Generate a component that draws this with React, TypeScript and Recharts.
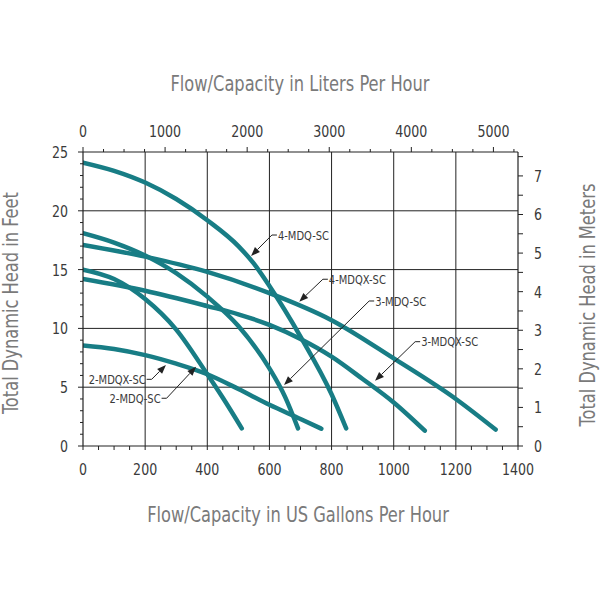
import React from 'react';
import { LineChart, Line, XAxis, YAxis, ReferenceLine } from 'recharts';

// conversion factors for the secondary axes
const LITERS_PER_GALLON = 3.78541;
const METERS_PER_FOOT = 0.3048;
const MAX_GPH = 1400;
const MAX_FT = 25;

// pump curves (US gallons per hour vs feet of head)
const flow4MDQ = [0, 100, 200, 300, 400, 500, 550, 600, 700, 800, 847];
const head4MDQ = [24.1, 23.4, 22.4, 21.0, 19.2, 17.0, 15.5, 13.6, 9.3, 4.4, 1.5];

const flow4MDQX = [0, 200, 400, 600, 800, 1000, 1200, 1328];
const head4MDQX = [17.1, 16.1, 14.8, 13.0, 10.7, 7.45, 4.0, 1.4];

const flow3MDQ = [0, 100, 200, 300, 400, 500, 600, 650, 692];
const head3MDQ = [18.1, 17.3, 16.2, 14.7, 12.7, 10.2, 6.6, 4.2, 1.5];

const flow3MDQX = [0, 200, 400, 500, 600, 700, 800, 900, 1000, 1100];
const head3MDQX = [14.2, 13.2, 11.9, 11.2, 10.3, 9.1, 7.6, 5.7, 3.7, 1.3];

const flow2MDQ = [0, 100, 200, 300, 400, 450, 511];
const head2MDQ = [15.0, 14.2, 12.5, 9.9, 6.1, 4.1, 1.5];

const flow2MDQX = [0, 100, 200, 300, 400, 500, 600, 700, 767];
const head2MDQX = [8.55, 8.25, 7.73, 7.0, 6.1, 4.85, 3.5, 2.3, 1.47];

const models = [
  { name: '4-MDQ-SC', flow: flow4MDQ, head: head4MDQ },
  { name: '4-MDQX-SC', flow: flow4MDQX, head: head4MDQX },
  { name: '3-MDQ-SC', flow: flow3MDQ, head: head3MDQ },
  { name: '3-MDQX-SC', flow: flow3MDQX, head: head3MDQX },
  { name: '2-MDQ-SC', flow: flow2MDQ, head: head2MDQ },
  { name: '2-MDQX-SC', flow: flow2MDQX, head: head2MDQX },
];

// tick labels
const gphLabels = [0, 200, 400, 600, 800, 1000, 1200, 1400];
const lphLabels = [0, 1000, 2000, 3000, 4000, 5000];
const feetLabels = [0, 5, 10, 15, 20, 25];
const meterLabels = [0, 1, 2, 3, 4, 5, 6, 7];

// minor tick marks
const gphTicks = Array.from({ length: 29 }, (_, i) => i * 50);
const lphTicks = Array.from({ length: 22 }, (_, i) => i * 250);
const feetTicks = Array.from({ length: 26 }, (_, i) => i);
const meterTicks = Array.from({ length: 16 }, (_, i) => i * 0.5);

const gridFlows = [200, 400, 600, 800, 1000, 1200];
const gridHeads = [5, 10, 15, 20];

// callouts: elbow and arrow tip in data units (gph, ft)
const callouts = [
  { text: '4-MDQ-SC', elbow: [608, 17.94], tip: [541, 16.16], side: 1 },
  { text: '4-MDQX-SC', elbow: [772, 14.18], tip: [696, 12.27], side: 1 },
  { text: '3-MDQ-SC', elbow: [921, 12.33], tip: [647, 5.19], side: 1 },
  { text: '3-MDQX-SC', elbow: [1069, 8.87], tip: [940, 5.55], side: 1 },
  { text: '2-MDQX-SC', elbow: [221, 5.67], tip: [267, 6.89], side: -1 },
  { text: '2-MDQ-SC', elbow: [269, 4.06], tip: [364, 6.74], side: -1 },
];

const TEAL = '#187d85';
const INK = '#222';
const FONT = "'DejaVu Sans Condensed', 'DejaVu Sans', sans-serif";
const TICK_COLOR = '#3a3a3a';
const TITLE_COLOR = '#7a7a7a';

const isOn = (v: any, list: number[]) => list.some((l) => Math.abs(Number(v) - l) < 1e-6);

// condensed-looking text: DejaVu Sans Condensed squeezed a bit more
const NarrowText = ({ x, y, anchor, size, children }: any) => (
  <text
    transform={`translate(${x},${y}) scale(0.85,1)`}
    x={0}
    y={0}
    dy="0.36em"
    textAnchor={anchor}
    fontFamily={FONT}
    fontSize={size}
    fill={TICK_COLOR}
  >
    {children}
  </text>
);

const BottomTick = ({ x, y, payload }: any) => {
  const v = payload.value;
  return (
    <g>
      <line x1={x} y1={y} x2={x} y2={y + 4} stroke={INK} strokeWidth={1} />
      {isOn(v, gphLabels) && (
        <NarrowText x={x} y={y + 23} anchor="middle" size={16.5}>
          {Math.round(v)}
        </NarrowText>
      )}
    </g>
  );
};

// liters-per-hour ticks, placed on the top edge through the gallon scale
const renderTopTick = (p: any, liters: number) => {
  const { x1, y1 } = p;
  const major = isOn(liters, lphLabels);
  return (
    <g>
      <line x1={x1} y1={y1} x2={x1} y2={y1 - (major ? 5 : 3)} stroke={INK} strokeWidth={1} />
      {major && (
        <NarrowText x={x1} y={y1 - 21} anchor="middle" size={16.5}>
          {liters}
        </NarrowText>
      )}
    </g>
  );
};

const LeftTick = ({ x, y, payload }: any) => {
  const v = payload.value;
  const major = isOn(v, feetLabels);
  return (
    <g>
      <line x1={x} y1={y} x2={x - (major ? 5 : 3)} y2={y} stroke={INK} strokeWidth={1} />
      {major && (
        <NarrowText x={x - 15} y={y} anchor="end" size={16.5}>
          {Math.round(v)}
        </NarrowText>
      )}
    </g>
  );
};

const RightTick = ({ x, y, payload }: any) => {
  const v = payload.value;
  return (
    <g>
      <line x1={x} y1={y} x2={x + 5} y2={y} stroke={INK} strokeWidth={1} />
      {isOn(v, meterLabels) && (
        <NarrowText x={x + 16} y={y} anchor="start" size={16.5}>
          {Math.round(v)}
        </NarrowText>
      )}
    </g>
  );
};

const renderCallout = (p: any, c: { text: string; side: number }) => {
  const { x1, y1, x2, y2 } = p;
  const dx = x2 - x1;
  const dy = y2 - y1;
  const len = Math.sqrt(dx * dx + dy * dy) || 1;
  const ux = dx / len;
  const uy = dy / len;
  const ah = 9;
  const aw = 3.5;
  const bx = x2 - ux * ah;
  const by = y2 - uy * ah;
  const head = `M${x2},${y2} L${bx - uy * aw},${by + ux * aw} L${bx + uy * aw},${by - ux * aw} Z`;
  return (
    <g>
      <path d={`M${x1 + c.side * 5},${y1} L${x1},${y1} L${bx},${by}`} fill="none" stroke={INK} strokeWidth={1} />
      <path d={head} fill={INK} />
      <NarrowText x={x1 + c.side * 6} y={y1} anchor={c.side > 0 ? 'start' : 'end'} size={13}>
        {c.text}
      </NarrowText>
    </g>
  );
};

const titleStyle: React.CSSProperties = {
  position: 'absolute',
  fontFamily: FONT,
  fontSize: 21,
  color: TITLE_COLOR,
  whiteSpace: 'nowrap',
  lineHeight: 1,
};

export default function App() {
  return (
    <div style={{ position: 'absolute', left: 0, top: 0, width: 600, height: 600, background: '#fff' }}>
      <LineChart width={600} height={600} margin={{ top: 0, right: 0, bottom: 0, left: 0 }}>
        <XAxis
          xAxisId="gph"
          dataKey="flow"
          type="number"
          domain={[0, MAX_GPH]}
          ticks={gphTicks}
          interval={0}
          height={154}
          tickSize={0}
          tickMargin={0}
          tickLine={false}
          axisLine={{ stroke: INK, strokeWidth: 1.2 }}
          tick={<BottomTick />}
          allowDataOverflow
        />
        <XAxis
          xAxisId="lph"
          orientation="top"
          type="number"
          domain={[0, MAX_GPH * LITERS_PER_GALLON]}
          height={152}
          tick={false}
          tickLine={false}
          axisLine={{ stroke: INK, strokeWidth: 1.2 }}
          allowDataOverflow
        />
        <YAxis
          yAxisId="ft"
          type="number"
          domain={[0, MAX_FT]}
          ticks={feetTicks}
          interval={0}
          width={83}
          tickSize={0}
          tickMargin={0}
          tickLine={false}
          axisLine={{ stroke: INK, strokeWidth: 1.2 }}
          tick={<LeftTick />}
          allowDataOverflow
        />
        <YAxis
          yAxisId="m"
          orientation="right"
          type="number"
          domain={[0, MAX_FT * METERS_PER_FOOT]}
          ticks={meterTicks}
          interval={0}
          width={82}
          tickSize={0}
          tickMargin={0}
          tickLine={false}
          axisLine={{ stroke: INK, strokeWidth: 1.2 }}
          tick={<RightTick />}
          allowDataOverflow
        />
        {gridFlows.map((v) => (
          <ReferenceLine key={`gx${v}`} xAxisId="gph" yAxisId="ft" x={v} stroke={INK} strokeWidth={1} />
        ))}
        {gridHeads.map((v) => (
          <ReferenceLine key={`gy${v}`} xAxisId="gph" yAxisId="ft" y={v} stroke={INK} strokeWidth={1} />
        ))}
        {lphTicks.map((l) => (
          <ReferenceLine
            key={`lt${l}`}
            xAxisId="gph"
            yAxisId="ft"
            ifOverflow="visible"
            segment={[
              { x: l / LITERS_PER_GALLON, y: MAX_FT },
              { x: l / LITERS_PER_GALLON, y: MAX_FT },
            ]}
            shape={(p: any) => renderTopTick(p, l)}
          />
        ))}
        {models.map((m) => (
          <Line
            key={m.name}
            name={m.name}
            xAxisId="gph"
            yAxisId="ft"
            data={m.flow.map((f, i) => ({ flow: f, head: m.head[i] }))}
            dataKey="head"
            type="monotone"
            stroke={TEAL}
            strokeWidth={4.5}
            strokeLinecap="round"
            dot={false}
            activeDot={false}
            isAnimationActive={false}
          />
        ))}
        {callouts.map((c) => (
          <ReferenceLine
            key={c.text}
            xAxisId="gph"
            yAxisId="ft"
            segment={[
              { x: c.elbow[0], y: c.elbow[1] },
              { x: c.tip[0], y: c.tip[1] },
            ]}
            shape={(p: any) => renderCallout(p, c)}
          />
        ))}
      </LineChart>
      <div style={{ ...titleStyle, left: 300, top: 84, transform: 'translate(-50%, -50%) scaleX(0.86)' }}>
        Flow/Capacity in Liters Per Hour
      </div>
      <div style={{ ...titleStyle, left: 298, top: 515, transform: 'translate(-50%, -50%) scaleX(0.86)' }}>
        Flow/Capacity in US Gallons Per Hour
      </div>
      <div style={{ ...titleStyle, left: 11, top: 303, transform: 'translate(-50%, -50%) rotate(-90deg) scaleX(0.86)' }}>
        Total Dynamic Head in Feet
      </div>
      <div style={{ ...titleStyle, left: 588, top: 305, transform: 'translate(-50%, -50%) rotate(-90deg) scaleX(0.86)' }}>
        Total Dynamic Head in Meters
      </div>
    </div>
  );
}
